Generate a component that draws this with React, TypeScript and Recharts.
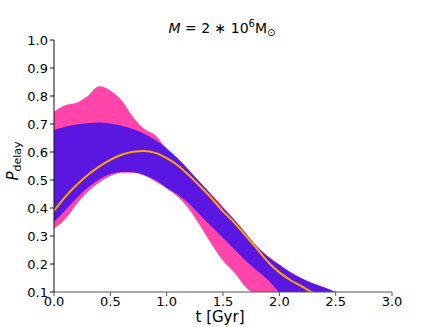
import { Area, ComposedChart, Line, XAxis, YAxis } from 'recharts';

const tValues = [0, 0.1, 0.2, 0.3, 0.4, 0.5, 0.6, 0.7, 0.8, 0.9, 1.0, 1.1, 1.2, 1.3, 1.4, 1.5, 1.6, 1.7, 1.8, 1.9, 2.0, 2.1, 2.2, 2.3, 2.4, 2.5];

// outer (pink) band
const pinkLow = [0.327, 0.36, 0.413, 0.458, 0.49, 0.514, 0.526, 0.526, 0.516, 0.495, 0.47, 0.44, 0.395, 0.335, 0.27, 0.212, 0.17, 0.118, 0.085, 0.05, 0.05, 0.05, 0.05, 0.05, 0.05, 0.05];
const pinkHigh = [0.745, 0.767, 0.776, 0.8, 0.835, 0.82, 0.785, 0.726, 0.683, 0.66, 0.612, 0.575, 0.532, 0.49, 0.448, 0.404, 0.36, 0.312, 0.264, 0.228, 0.198, 0.171, 0.149, 0.131, 0.117, 0.1];

// inner (blue) band
const blueLow = [0.35, 0.392, 0.435, 0.473, 0.502, 0.521, 0.529, 0.528, 0.518, 0.5, 0.472, 0.447, 0.415, 0.373, 0.333, 0.293, 0.253, 0.212, 0.177, 0.143, 0.098, 0.05, 0.05, 0.05, 0.05, 0.05];
const blueHigh = [0.679, 0.69, 0.698, 0.703, 0.705, 0.702, 0.694, 0.682, 0.665, 0.642, 0.613, 0.578, 0.535, 0.49, 0.445, 0.4, 0.357, 0.31, 0.262, 0.226, 0.197, 0.17, 0.148, 0.13, 0.116, 0.1];

// median curve
const median = [0.39, 0.44, 0.482, 0.518, 0.548, 0.572, 0.59, 0.601, 0.604, 0.597, 0.578, 0.552, 0.516, 0.476, 0.434, 0.388, 0.348, 0.301, 0.255, 0.207, 0.17, 0.142, 0.12, 0.096];

const xTicks = [0, 0.5, 1, 1.5, 2, 2.5, 3];
const yTicks = [0.1, 0.2, 0.3, 0.4, 0.5, 0.6, 0.7, 0.8, 0.9, 1.0];

const data = tValues.map((t, i) => ({
  t,
  pink: [pinkLow[i], pinkHigh[i]],
  blue: [blueLow[i], blueHigh[i]],
  median: i < median.length ? median[i] : null,
}));

const font = '"DejaVu Sans", sans-serif';
const tickStyle = { fontSize: 13, fill: '#000', fontFamily: font };

export default function App() {
  return (
    <div style={{ position: 'absolute', left: 0, top: 0, width: 436, height: 327, background: '#fff' }}>
      <ComposedChart width={436} height={327} data={data} margin={{ top: 40, right: 44, bottom: 0, left: 0 }}>
        <XAxis
          dataKey="t"
          type="number"
          domain={[0, 3]}
          ticks={xTicks}
          tickFormatter={(v: number) => v.toFixed(1)}
          tick={tickStyle}
          tickSize={4}
          tickMargin={1}
          height={35}
          stroke="#555"
          allowDataOverflow
        />
        <XAxis xAxisId="top" orientation="top" type="number" domain={[0, 3]} tick={false} tickLine={false} height={0} stroke="#555" />
        <YAxis
          type="number"
          domain={[0.1, 1]}
          ticks={yTicks}
          tickFormatter={(v: number) => v.toFixed(1)}
          tick={tickStyle}
          tickSize={4}
          tickMargin={2}
          width={54}
          stroke="#111"
          allowDataOverflow
        />
        <YAxis yAxisId="right" orientation="right" type="number" domain={[0.1, 1]} tick={false} tickLine={false} width={0} stroke="#555" />
        <Area dataKey="pink" type="monotone" fill="#ff44aa" fillOpacity={1} stroke="none" dot={false} activeDot={false} isAnimationActive={false} />
        <Area dataKey="blue" type="monotone" fill="#0000ff" fillOpacity={0.65} stroke="none" dot={false} activeDot={false} isAnimationActive={false} />
        <Line dataKey="median" type="monotone" stroke="#ffa500" strokeWidth={2} dot={false} activeDot={false} isAnimationActive={false} />
      </ComposedChart>
      <svg width={436} height={327} style={{ position: 'absolute', left: 0, top: 0, pointerEvents: 'none' }} fontFamily={font}>
        <text x={222} y={33} textAnchor="middle" fontSize={14} fill="#000">
          <tspan fontStyle="italic">M</tspan>
          <tspan> = 2 ∗ 10</tspan>
          <tspan fontSize={10} dy={-6}>6</tspan>
          <tspan dy={6}>M</tspan>
          <tspan fontSize={10} dy={3}>⊙</tspan>
        </text>
        <text transform="translate(18,161) rotate(-90)" textAnchor="middle" fontSize={15} fill="#000">
          <tspan fontStyle="italic">P</tspan>
          <tspan fontSize={11} dy={3}>delay</tspan>
        </text>
        <text x={220} y={322} textAnchor="middle" fontSize={15} fill="#000">t [Gyr]</text>
      </svg>
    </div>
  );
}
